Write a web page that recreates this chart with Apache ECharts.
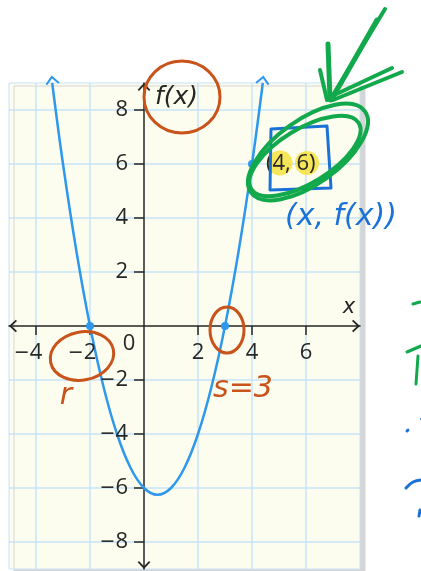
<!DOCTYPE html>
<html lang="en">
<head>
    <meta charset="UTF-8">
    <title>f(x) with zeros r and s</title>
    <style>
        * {
            margin: 0;
            padding: 0;
        }

        body {
            background: #fff;
        }

        .main {
            width: 421px;
            height: 571px;
        }
    </style>
</head>
<body>
<div id="main" class="main"></div>
<script src="https://cdn.jsdelivr.net/npm/echarts@6/dist/echarts.min.js"></script>
<script>
    // curve (x, f(x))
    var curveX = [-3.4, -3, -2.5, -2, -1.5, -1, -0.5, 0, 0.5, 1, 1.5, 2, 2.5, 3, 3.5, 4, 4.4];
    var curveY = [9, 6, 2.75, 0, -2.25, -4, -5.25, -6, -6.25, -6, -5.25, -4, -2.25, 0, 2.75, 6, 9];

    // marked points on the curve
    var pointX = [-2, 3, 4];
    var pointY = [0, 0, 6];
    var pointLabels = ['', '', '(4, 6)'];

    // tick labels
    var xTicks = [-4, -2, 2, 4, 6];
    var yTicks = [-8, -6, -4, -2, 2, 4, 6, 8];

    var BLUE = '#2d98ec';
    var INK = '#262626';
    var GRID = '#c6e3f8';
    var ORANGE = '#c8531b';
    var GREEN = '#12a84c';
    var PEN = '#1b72d6';
    // open chevron, tip up
    var CHEVRON = 'path://M6,0 L12,6.4 L10.8,7.6 L6,2.6 L1.2,7.6 L0,6.4 Z';

    var myChart = echarts.init(document.getElementById('main'), null, {renderer: 'canvas'});

    var curveData = curveX.map(function (x, i) {
        return [x, curveY[i]];
    });
    var last = curveData.length - 1;
    // arrow heads follow the direction of the last segment at each end
    function endRotate(a, b) {
        var ang = Math.atan2(b[1] - a[1], b[0] - a[0]) * 180 / Math.PI;
        return ang - 90;
    }
    var endData = [
        {value: curveData[0], symbolRotate: endRotate(curveData[1], curveData[0])},
        {value: curveData[last], symbolRotate: endRotate(curveData[last - 1], curveData[last])}
    ];

    var pointData = pointX.map(function (x, i) {
        return {value: [x, pointY[i]], name: pointLabels[i]};
    });

    var rich = {
        m: {fontFamily: 'DejaVu Sans', fontSize: 19, color: INK},
        d: {fontFamily: 'Open Sans', fontSize: 22, color: INK},
        p: {width: 16}
    };

    function tickText(v, pad) {
        if (v < 0) {
            return '{m|\u2212}{d|' + (-v) + '}' + (pad ? '{p| }' : '');
        }
        return '{d|' + v + '}';
    }

    myChart.setOption({
        animation: false,
        grid: {
            left: 9,
            top: 83,
            right: 61,
            bottom: 2,
            containLabel: false,
            outerBoundsMode: 'none',
            show: true,
            backgroundColor: '#fdfdef',
            borderColor: GRID,
            borderWidth: 1,
            shadowColor: '#d5d5d5',
            shadowBlur: 0,
            shadowOffsetX: 5,
            shadowOffsetY: 3
        },
        xAxis: {
            type: 'value',
            min: -5,
            max: 8,
            interval: 1,
            name: 'x',
            nameLocation: 'end',
            nameGap: -11,
            nameTextStyle: {
                fontFamily: 'DejaVu Sans', fontStyle: 'italic', fontSize: 21, color: INK,
                align: 'center', verticalAlign: 'bottom', padding: [0, 0, 8, 0]
            },
            axisLine: {
                onZero: true,
                symbol: [CHEVRON, CHEVRON],
                symbolSize: [13, 8],
                symbolOffset: [4, -4],
                lineStyle: {color: INK, width: 1.5}
            },
            axisTick: {show: true, customValues: xTicks, length: 9, lineStyle: {color: INK, width: 1.5}},
            axisLabel: {show: false},
            splitLine: {show: true, lineStyle: {color: GRID, width: 1.5}}
        },
        yAxis: {
            type: 'value',
            min: -9,
            max: 9,
            interval: 1,
            name: 'f(x)',
            nameLocation: 'end',
            nameGap: -2,
            nameTextStyle: {
                fontFamily: 'DejaVu Sans', fontStyle: 'italic', fontSize: 25, color: INK,
                align: 'left', verticalAlign: 'top', padding: [0, 0, 0, 11]
            },
            axisLine: {
                onZero: true,
                symbol: [CHEVRON, CHEVRON],
                symbolSize: [13, 8],
                symbolOffset: [4, -4],
                lineStyle: {color: INK, width: 1.5}
            },
            axisTick: {show: true, customValues: yTicks, length: 10, lineStyle: {color: INK, width: 1.5}},
            axisLabel: {show: false},
            splitLine: {show: true, lineStyle: {color: GRID, width: 1.5}}
        },
        series: [
            {
                name: 'f(x)',
                type: 'line',
                data: curveData,
                smooth: 0.35,
                symbol: 'none',
                z: 3,
                lineStyle: {color: BLUE, width: 2.5}
            },
            {
                name: 'ends',
                type: 'scatter',
                data: endData,
                symbol: CHEVRON,
                symbolSize: [14, 9],
                symbolOffset: [0, -3],
                itemStyle: {color: BLUE, opacity: 1},
                z: 3,
                silent: true
            },
            {
                name: 'points',
                type: 'scatter',
                data: pointData,
                symbolSize: 8,
                itemStyle: {color: BLUE, opacity: 1},
                z: 4,
                label: {
                    show: true,
                    position: 'right',
                    distance: 10,
                    formatter: '{b}',
                    fontFamily: 'Open Sans',
                    fontSize: 22,
                    color: INK
                }
            },
            {
                // tick labels sitting on the x axis line
                name: 'x ticks',
                type: 'scatter',
                data: xTicks.map(function (t) { return [t, 0]; }),
                symbolSize: 0,
                silent: true,
                z: 5,
                itemStyle: {opacity: 1},
                label: {
                    show: true,
                    position: 'bottom',
                    distance: 16,
                    formatter: function (p) { return tickText(p.value[0], true); },
                    rich: rich
                }
            },
            {
                // tick labels sitting on the y axis line
                name: 'y ticks',
                type: 'scatter',
                data: yTicks.map(function (t) { return [0, t]; }),
                symbolSize: 0,
                silent: true,
                z: 5,
                itemStyle: {opacity: 1},
                label: {
                    show: true,
                    position: 'left',
                    distance: 16,
                    formatter: function (p) { return tickText(p.value[1], false); },
                    rich: rich
                }
            }
        ]
    });

    var o = myChart.convertToPixel({gridIndex: 0}, [0, 0]);

    function line(points, color, width) {
        return {
            type: 'polyline', z: 100, silent: true,
            shape: {points: points, smooth: 0.4},
            style: {stroke: color, lineWidth: width, lineCap: 'round', lineJoin: 'round', fill: null}
        };
    }

    function oval(cx, cy, rx, ry, rot, color, width) {
        return {
            type: 'ellipse', z: 100, silent: true,
            x: cx, y: cy, rotation: rot || 0,
            shape: {cx: 0, cy: 0, rx: rx, ry: ry},
            style: {stroke: color, lineWidth: width, fill: null}
        };
    }

    function pen(text, x, y, color, size) {
        return {
            type: 'text', z: 100, silent: true, x: x, y: y,
            style: {
                text: text, fill: color, fontSize: size, fontFamily: 'DejaVu Sans',
                fontStyle: 'italic', align: 'center', verticalAlign: 'middle'
            }
        };
    }

    myChart.setOption({
        graphic: [
            // origin label
            {
                type: 'text', z: 5, x: o[0] - 15, y: o[1] + 18,
                style: {text: '0', fill: INK, fontSize: 22, fontFamily: 'Open Sans', align: 'center', verticalAlign: 'middle'}
            },
            // highlighter
            {type: 'circle', z: 1, shape: {cx: 280, cy: 163, r: 12.5}, style: {fill: 'rgba(246, 226, 60, 0.85)'}},
            {type: 'circle', z: 1, shape: {cx: 307, cy: 163, r: 12}, style: {fill: 'rgba(246, 226, 60, 0.85)'}},
            // orange ink
            oval(182, 97, 38, 36, 0, ORANGE, 3),
            oval(82, 356, 32, 24, 0.2, ORANGE, 3),
            oval(227, 330, 17, 23, 0, ORANGE, 3),
            pen('r', 66, 396, ORANGE, 30),
            pen('s=3', 243, 389, ORANGE, 30),
            // blue ink
            {
                type: 'polygon', z: 100, silent: true,
                shape: {points: [[271, 129], [327, 126], [331, 188], [270, 190]]},
                style: {stroke: PEN, lineWidth: 3, fill: null, lineJoin: 'round'}
            },
            pen('(x, f(x))', 341, 217, PEN, 30),
            // green ink
            oval(308, 152, 70, 32, 0.62, GREEN, 4),
            oval(305, 156, 63, 27, 0.55, GREEN, 4),
            line([[330, 100], [385, 9]], GREEN, 4),
            line([[333, 97], [377, 20]], GREEN, 5),
            line([[330, 100], [328, 44]], GREEN, 5),
            line([[327, 100], [320, 70]], GREEN, 4),
            line([[333, 100], [402, 72]], GREEN, 4),
            line([[330, 97], [392, 68]], GREEN, 4),
            // cut-off notes at the right edge
            line([[413, 304], [420, 302]], GREEN, 3),
            line([[407, 352], [421, 346]], GREEN, 3),
            line([[418, 356], [416, 384]], GREEN, 3),
            line([[407, 431], [408, 430]], PEN, 3),
            line([[421, 419], [422, 419]], PEN, 2),
            line([[406, 488], [413, 482], [422, 480]], PEN, 3),
            line([[420, 510], [419, 516]], PEN, 3)
        ]
    });
</script>
</body>
</html>
